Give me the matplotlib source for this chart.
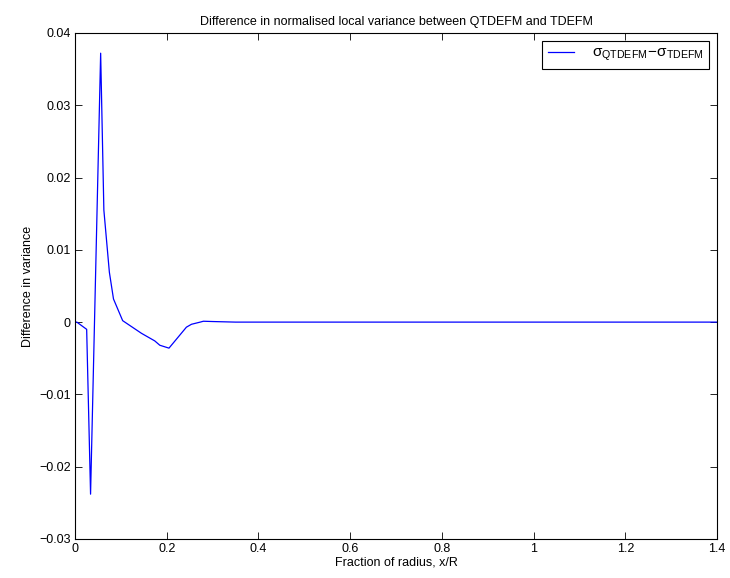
import matplotlib
matplotlib.use("Agg")
import matplotlib.pyplot as plt

# values
x_frac = [0.0, 0.004, 0.0255, 0.034, 0.056, 0.063, 0.075, 0.084, 0.104,
          0.145, 0.174, 0.185, 0.205, 0.243, 0.254, 0.273, 0.28, 0.30,
          0.35, 0.5, 0.8, 1.1, 1.4]
diff_var = [0.0, 0.0, -0.001, -0.0238, 0.0372, 0.0155, 0.0069, 0.0032, 0.0002,
            -0.00155, -0.0026, -0.0032, -0.0036, -0.0007, -0.0003, 0.0, 0.00012, 0.00008,
            0.0, 0.0, 0.0, 0.0, 0.0]

plt.rcParams['font.family'] = ['Liberation Sans', 'DejaVu Sans']
plt.rcParams['font.size'] = 9
plt.rcParams['mathtext.fontset'] = 'custom'
plt.rcParams['mathtext.rm'] = 'Liberation Sans'
plt.rcParams['mathtext.it'] = 'Liberation Sans'

fig = plt.figure(figsize=(7.30, 5.78), dpi=100)
ax = fig.add_axes([0.1027, 0.0675, 0.8795, 0.8755])

ax.plot(x_frac, diff_var, color='blue', lw=0.9,
        label=r'$\sigma_{\mathrm{QTDEFM}}\!-\!\sigma_{\mathrm{TDEFM}}$')

ax.set_xlim(0, 1.4)
ax.set_ylim(-0.03, 0.04)
ax.set_xticks([0, 0.2, 0.4, 0.6, 0.8, 1, 1.2, 1.4])
ax.set_xticklabels(['0', '0.2', '0.4', '0.6', '0.8', '1', '1.2', '1.4'])
ax.set_yticks([-0.03, -0.02, -0.01, 0, 0.01, 0.02, 0.03, 0.04])
ax.set_yticklabels(['\u22120.03', '\u22120.02', '\u22120.01', '0', '0.01', '0.02', '0.03', '0.04'])
ax.tick_params(direction='in', top=True, right=True, length=5, width=0.6, pad=3)
for s in ax.spines.values():
    s.set_linewidth(0.8)

ax.set_title('Difference in normalised local variance between QTDEFM and TDEFM', fontsize=9, pad=6)
ax.set_xlabel('Fraction of radius, x/R', labelpad=1)
ax.set_ylabel('Difference in variance', labelpad=4)

leg = ax.legend(loc='upper right', fancybox=False, edgecolor='black', framealpha=1,
                borderaxespad=0.5, handlelength=1.7, handletextpad=1.2, fontsize=11,
                borderpad=0.35)
leg.get_frame().set_linewidth(0.8)

fig.savefig('out.png', dpi=100)
